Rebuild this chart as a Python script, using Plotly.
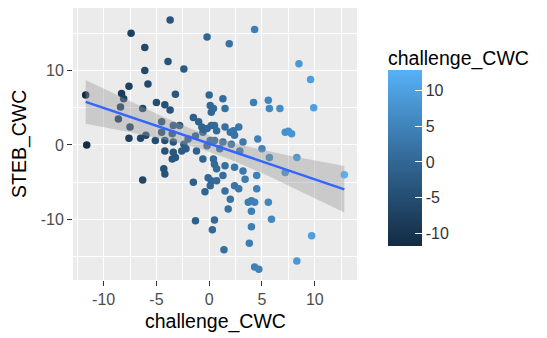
import numpy as np
import plotly.graph_objects as go

# challenge_CWC (x) and STEB_CWC (y) values
challenge_CWC = [
    -3.7, -7.4, -6.1, -0.2, 1.9, 4.3, 8.5, 9.6, 9.9, -6.1,
    -3.9, -2.4, -7.6, -5.8, -8.3, -8.1, -3.2, -11.7, -5.0, -4.2,
    -3.7, -6.3, -8.4, -8.6, 0.0, 0.1, -1.5, -1.0, -0.7, -0.6,
    -0.2, 0.2, -3.4, -2.8, -4.5, -7.5, -7.6, -6.5, -6.0, -5.1,
    -4.2, -3.4, -2.4, -4.5, -3.5, -11.6, 0.1, 1.3, 0.4, 0.2,
    1.5, 4.2, 5.6, 5.7, 6.7, 0.5, 0.7, 1.5, 2.0, 2.3,
    2.8, 2.4, 4.6, 0.5, 1.3, 2.1, 3.2, 7.2, 7.5, 7.8,
    -4.2, -3.4, -2.6, -1.2, -3.2, -3.5, -4.3, -4.2, -6.3, -1.3,
    -0.6, -1.5, -0.4, -0.1, 0.2, 0.1, -0.2, 0.4, 0.5, 0.7,
    1.5, 1.3, 0.7, 2.4, 3.2, 3.4, 4.5, 1.5, 2.4, 2.8,
    4.5, 2.0, 1.8, 3.7, 4.0, 4.3, 4.0, 5.6, 5.9, 0.5,
    0.3, 4.0, 3.8, 1.4, 4.3, 4.7, 8.3, 9.7, 8.3, 12.8,
    7.2, 5.7, -2.0, -1.3, 1.0, 2.9, 5.0, -2.2,
]
STEB_CWC = [
    16.8, 15.0, 13.1, 14.5, 13.6, 15.5, 10.9, 8.8, 5.0, 10.0,
    11.2, 10.2, 7.9, 8.2, 6.9, 6.2, 6.8, 6.7, 5.7, 5.4,
    4.7, 4.9, 5.1, 3.5, 6.7, 5.3, 3.7, 3.1, 2.4, 1.7,
    2.2, 2.6, 2.6, 2.6, 3.1, 2.4, 0.9, 0.9, 1.3, 0.6,
    0.6, 0.4, 0.1, 1.7, 1.5, 0.0, 0.6, 6.2, 4.9, 4.4,
    4.9, 5.7, 6.0, 4.9, 4.9, 2.6, 1.9, 2.4, 1.7, 1.9,
    2.4, 1.3, 0.8, 0.6, 0.4, 0.1, 0.4, 1.7, 1.85, 1.5,
    -0.8, -1.0, -0.8, -0.8, -1.7, -1.9, -3.2, -3.9, -4.7, -10.2,
    -1.9, -5.0, -6.3, -4.4, -4.8, -5.5, -0.1, -1.9, -2.6, -3.2,
    -2.8, -4.1, -4.8, -3.0, -3.5, -4.6, -4.1, -6.2, -5.5, -5.9,
    -5.9, -7.3, -8.6, -7.7, -7.5, -7.7, -8.9, -7.7, -10.0, -10.1,
    -11.4, -11.0, -13.2, -14.1, -16.4, -16.7, -15.6, -12.2, -1.7, -4.0,
    -3.7, -1.7, 0.8, 1.2, -0.5, -0.8, -0.5, -0.5,
]

x_ticks = [-10, -5, 0, 5, 10]
x_tick_labels = ["-10", "-5", "0", "5", "10"]
y_ticks = [-10, 0, 10]
y_tick_labels = ["-10", "0", "10"]

x = np.array(challenge_CWC)
y = np.array(STEB_CWC)

# linear fit with 95% confidence band (like geom_smooth(method = "lm"))
n = len(x)
b1, b0 = np.polyfit(x, y, 1)
resid = y - (b0 + b1 * x)
s = np.sqrt(np.sum(resid ** 2) / (n - 2))
xbar = x.mean()
sxx = np.sum((x - xbar) ** 2)
t_crit = 1.98
xs = np.linspace(x.min(), x.max(), 80)
ys = b0 + b1 * xs
se = s * np.sqrt(1.0 / n + (xs - xbar) ** 2 / sxx)
lo = ys - t_crit * se
hi = ys + t_crit * se

colorscale = [[0.0, "#132B43"], [0.5, "#336A98"], [1.0, "#56B1F7"]]
FONT = "Liberation Sans, Arial, sans-serif"

fig = go.Figure()
fig.add_trace(go.Scatter(
    x=x, y=y, mode="markers",
    marker=dict(
        size=7.5, color=x, colorscale=colorscale,
        cmin=x.min(), cmax=x.max(),
        line=dict(width=0),
        colorbar=dict(
            xref="container", yref="container",
            x=388 / 547, xanchor="left", xpad=0,
            y=1 - 87 / 338, yanchor="top", ypad=0,
            lenmode="pixels", len=176, thickness=34,
            outlinewidth=0,
            tickvals=x_ticks, ticktext=x_tick_labels,
            ticks="inside", ticklen=7, tickcolor="white", tickwidth=1,
            tickfont=dict(family=FONT, size=16, color="#333333"),
        ),
    ),
    showlegend=False, hoverinfo="skip",
))
fig.add_trace(go.Scatter(
    x=np.concatenate([xs, xs[::-1]]), y=np.concatenate([hi, lo[::-1]]),
    fill="toself", fillcolor="rgba(153,153,153,0.4)",
    line=dict(width=0), mode="lines", showlegend=False, hoverinfo="skip",
))
fig.add_trace(go.Scatter(
    x=xs, y=ys, mode="lines", line=dict(color="#3366FF", width=2.5),
    showlegend=False, hoverinfo="skip",
))

tickfont = dict(family=FONT, size=16, color="#4D4D4D")
titlefont = dict(family=FONT, size=19.5, color="#000000")

fig.update_layout(
    width=547, height=338,
    margin=dict(l=73, r=190, t=8, b=58),
    paper_bgcolor="white", plot_bgcolor="#EBEBEB",
    xaxis=dict(
        range=[-12.9, 14.0], tickvals=x_ticks, ticktext=x_tick_labels,
        ticks="outside", ticklen=5, tickcolor="#333333", tickwidth=1,
        showgrid=True, gridcolor="white", gridwidth=1.2,
        minor=dict(dtick=2.5, tick0=0, showgrid=True, gridcolor="white", gridwidth=0.6),
        zeroline=False, showline=False, tickfont=tickfont,
    ),
    yaxis=dict(
        range=[-18.15, 18.4], tickvals=y_ticks, ticktext=y_tick_labels,
        ticks="outside", ticklen=5, tickcolor="#333333", tickwidth=1,
        showgrid=True, gridcolor="white", gridwidth=1.2,
        minor=dict(dtick=5, tick0=0, showgrid=True, gridcolor="white", gridwidth=0.6),
        zeroline=False, showline=False, tickfont=tickfont,
    ),
    annotations=[
        dict(text="challenge_CWC", xref="paper", yref="paper",
             x=0.5, y=(280 - 321) / 272, xanchor="center", yanchor="middle",
             showarrow=False, font=titlefont),
        dict(text="STEB_CWC", xref="paper", yref="paper",
             x=(19 - 73) / 284, y=0.5, xanchor="center", yanchor="middle",
             textangle=-90, showarrow=False, font=titlefont),
        dict(text="challenge_CWC", xref="paper", yref="paper",
             x=(386 - 73) / 284, y=(280 - 58) / 272, xanchor="left", yanchor="middle",
             showarrow=False, font=titlefont),
    ],
)

fig.write_html("out.html", config={"displayModeBar": False},
               post_script="document.body.style.margin='0';")
